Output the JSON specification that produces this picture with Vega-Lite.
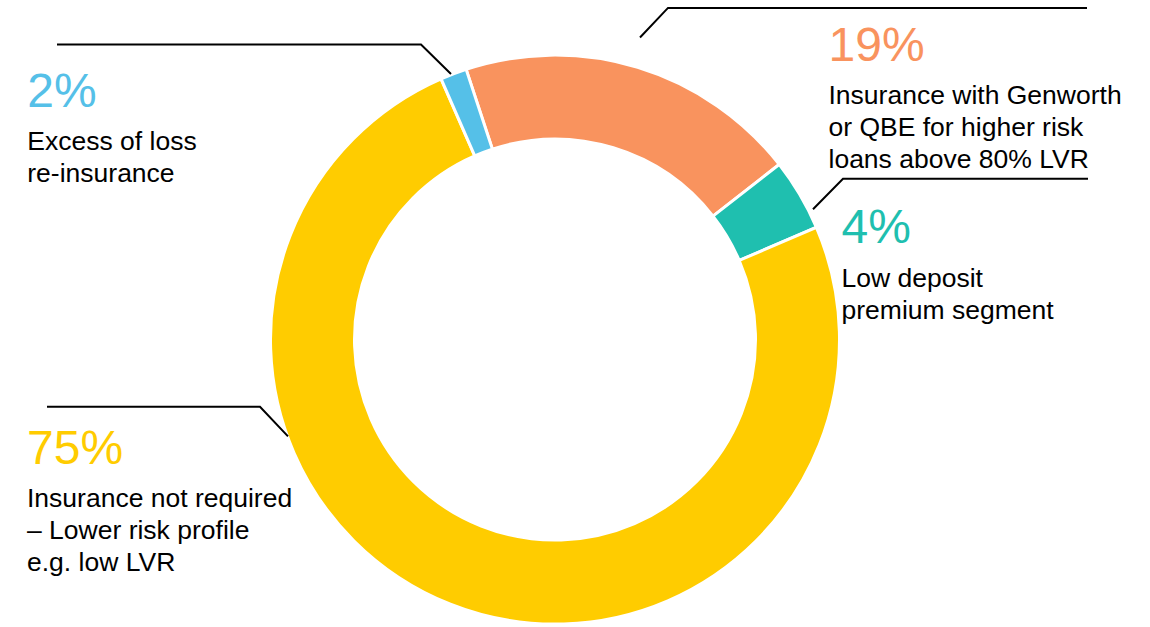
{
  "$schema": "https://vega.github.io/schema/vega-lite/v6.json",
  "width": 1150,
  "height": 627,
  "autosize": {"type": "fit", "contains": "padding"},
  "padding": 0,
  "background": "white",
  "config": {"view": {"stroke": null}},
  "datasets": {
    "shares": [
      {"segment": "Insurance with Genworth or QBE", "share": 19.5, "order": 1},
      {"segment": "Low deposit premium segment", "share": 4.1, "order": 2},
      {"segment": "Insurance not required", "share": 74.9, "order": 3},
      {"segment": "Excess of loss re-insurance", "share": 1.5, "order": 4}
    ],
    "leaders": [
      {"segment": "Excess of loss re-insurance", "step": 1, "px": 451, "py": 75},
      {"segment": "Excess of loss re-insurance", "step": 2, "px": 421, "py": 45},
      {"segment": "Excess of loss re-insurance", "step": 3, "px": 57, "py": 45},
      {"segment": "Insurance with Genworth or QBE", "step": 1, "px": 640, "py": 38},
      {"segment": "Insurance with Genworth or QBE", "step": 2, "px": 668, "py": 8},
      {"segment": "Insurance with Genworth or QBE", "step": 3, "px": 1087, "py": 8},
      {"segment": "Low deposit premium segment", "step": 1, "px": 813, "py": 212},
      {"segment": "Low deposit premium segment", "step": 2, "px": 843, "py": 181},
      {"segment": "Low deposit premium segment", "step": 3, "px": 1088, "py": 181},
      {"segment": "Insurance not required", "step": 1, "px": 288, "py": 442},
      {"segment": "Insurance not required", "step": 2, "px": 260, "py": 412},
      {"segment": "Insurance not required", "step": 3, "px": 47, "py": 412}
    ],
    "labels": [
      {"segment": "Excess of loss re-insurance", "pct": "2%", "desc": "Excess of loss\nre-insurance", "lx": 27.3, "pctY": 108, "descY": 151.7},
      {"segment": "Insurance with Genworth or QBE", "pct": "19%", "desc": "Insurance with Genworth\nor QBE for higher risk\nloans above 80% LVR", "lx": 828.5, "pctY": 62, "descY": 105},
      {"segment": "Low deposit premium segment", "pct": "4%", "desc": "Low deposit\npremium segment", "lx": 841.5, "pctY": 245.7, "descY": 290.7},
      {"segment": "Insurance not required", "pct": "75%", "desc": "Insurance not required\n– Lower risk profile\ne.g. low LVR", "lx": 27, "pctY": 469.5, "descY": 513.3}
    ]
  },
  "layer": [
    {
      "data": {"name": "shares"},
      "mark": {"type": "arc", "innerRadius": 200.5, "outerRadius": 284.5, "stroke": "white", "strokeWidth": 3},
      "encoding": {
        "theta": {"field": "share", "type": "quantitative", "stack": true, "scale": {"range": [-0.3177, 5.9655]}},
        "order": {"field": "order", "type": "quantitative"},
        "color": {
          "field": "segment", "type": "nominal", "legend": null,
          "scale": {
            "domain": ["Insurance with Genworth or QBE", "Low deposit premium segment", "Insurance not required", "Excess of loss re-insurance"],
            "range": ["#F9935E", "#1FBFAF", "#FFCC00", "#55C0E8"]
          }
        },
        "x": {"datum": 555, "type": "quantitative", "scale": {"domain": [0, 1150], "nice": false, "zero": false}, "axis": null},
        "y": {"datum": 344, "type": "quantitative", "scale": {"domain": [0, 627], "nice": false, "zero": false, "reverse": true}, "axis": null}
      }
    },
    {
      "data": {"name": "leaders"},
      "mark": {"type": "line", "color": "black", "strokeWidth": 2},
      "encoding": {
        "x": {"field": "px", "type": "quantitative"},
        "y": {"field": "py", "type": "quantitative"},
        "detail": {"field": "segment", "type": "nominal"},
        "order": {"field": "step", "type": "quantitative"}
      }
    },
    {
      "data": {"name": "labels"},
      "mark": {"type": "text", "font": "Liberation Sans", "fontSize": 48, "align": "left", "baseline": "alphabetic"},
      "encoding": {
        "x": {"field": "lx", "type": "quantitative"},
        "y": {"field": "pctY", "type": "quantitative"},
        "text": {"field": "pct", "type": "nominal"},
        "color": {"field": "segment", "type": "nominal", "legend": null}
      }
    },
    {
      "data": {"name": "labels"},
      "mark": {"type": "text", "font": "Liberation Sans", "fontSize": 26.5, "lineHeight": 32, "lineBreak": "\n", "align": "left", "baseline": "alphabetic", "color": "black"},
      "encoding": {
        "x": {"field": "lx", "type": "quantitative"},
        "y": {"field": "descY", "type": "quantitative"},
        "text": {"field": "desc", "type": "nominal"}
      }
    }
  ]
}
